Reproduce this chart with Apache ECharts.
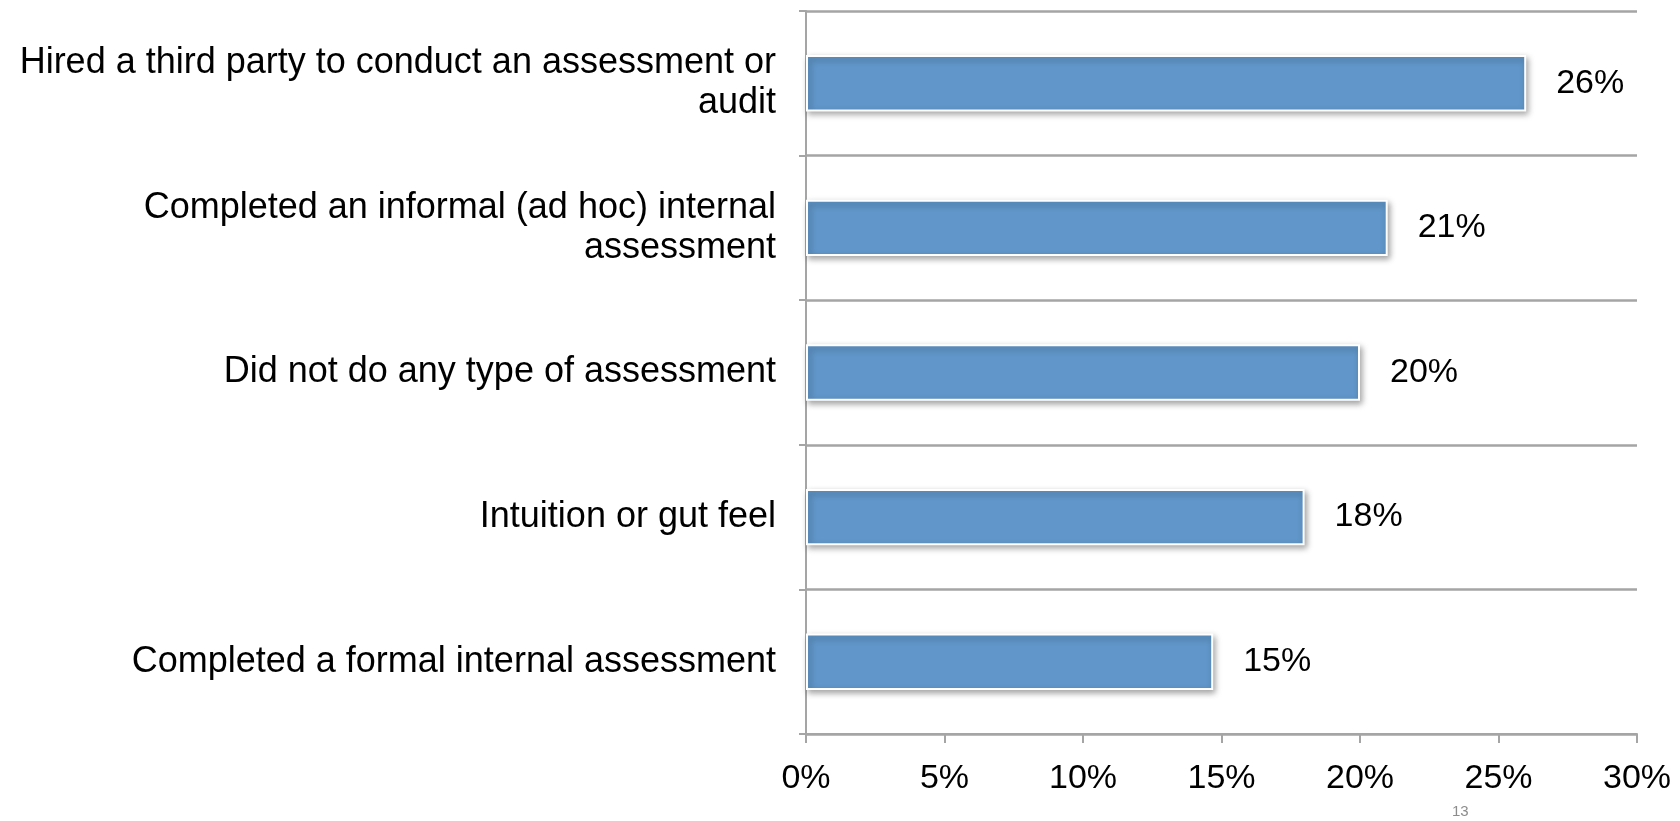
<!DOCTYPE html>
<html>
<head>
<meta charset="utf-8">
<script src="https://cdn.jsdelivr.net/npm/echarts@6/dist/echarts.min.js"></script>
<style>
  html, body { margin: 0; padding: 0; background: #fff; }
  #chart { width: 1680px; height: 821px; }
  .page-no { position: absolute; left: 1452px; top: 802px; font: 15px 'Liberation Sans', Arial, sans-serif; color: #8c8c8c; }
</style>
</head>
<body>
<div id="chart"></div>
<div class="page-no">13</div>
<script>
// categories, top to bottom
const categories = [
  'Hired a third party to conduct an assessment or\naudit',
  'Completed an informal (ad hoc) internal\nassessment',
  'Did not do any type of assessment',
  'Intuition or gut feel',
  'Completed a formal internal assessment',
];
const shares = [26, 21, 20, 18, 14.7];
const shareLabels = ['26%', '21%', '20%', '18%', '15%'];
const xTicks = [0, 5, 10, 15, 20, 25, 30];

const gray = '#a5a5a5';
const fontFamily = "'Liberation Sans', Arial, sans-serif";

const chart = echarts.init(document.getElementById('chart'));
chart.setOption({
  animation: false,
  backgroundColor: '#fff',
  grid: { left: 806, right: 43, top: 11, bottom: 87 },
  xAxis: {
    type: 'value',
    min: xTicks[0],
    max: xTicks[xTicks.length - 1],
    interval: 5,
    axisLine: { show: true, lineStyle: { color: gray, width: 2 } },
    axisTick: { show: true, length: 9, lineStyle: { color: gray, width: 2 } },
    splitLine: { show: false },
    axisLabel: {
      formatter: (v) => v + '%',
      fontSize: 34,
      fontFamily: fontFamily,
      color: '#000',
      margin: 28,
    },
  },
  yAxis: {
    type: 'category',
    inverse: true,
    data: categories,
    axisLine: { show: true, lineStyle: { color: gray, width: 2 } },
    axisTick: { show: true, length: 7, lineStyle: { color: gray, width: 2 } },
    splitLine: { show: true, lineStyle: { color: gray, width: 2.5 } },
    axisLabel: {
      fontSize: 36,
      fontFamily: fontFamily,
      color: '#000',
      margin: 30,
      lineHeight: 40,
      align: 'right',
    },
  },
  series: [
    {
      type: 'bar',
      data: shares,
      barWidth: '39%',
      itemStyle: {
        color: '#6096c9',
        borderColor: '#fff',
        borderWidth: 2,
        shadowColor: 'rgba(0,0,0,0.35)',
        shadowBlur: 6,
        shadowOffsetX: 2,
        shadowOffsetY: 3,
      },
      label: {
        show: true,
        position: 'right',
        distance: 30,
        formatter: (p) => shareLabels[p.dataIndex],
        fontSize: 34,
        fontFamily: fontFamily,
        color: '#000',
      },
      emphasis: { disabled: true },
    },
  ],
});
</script>
</body>
</html>
